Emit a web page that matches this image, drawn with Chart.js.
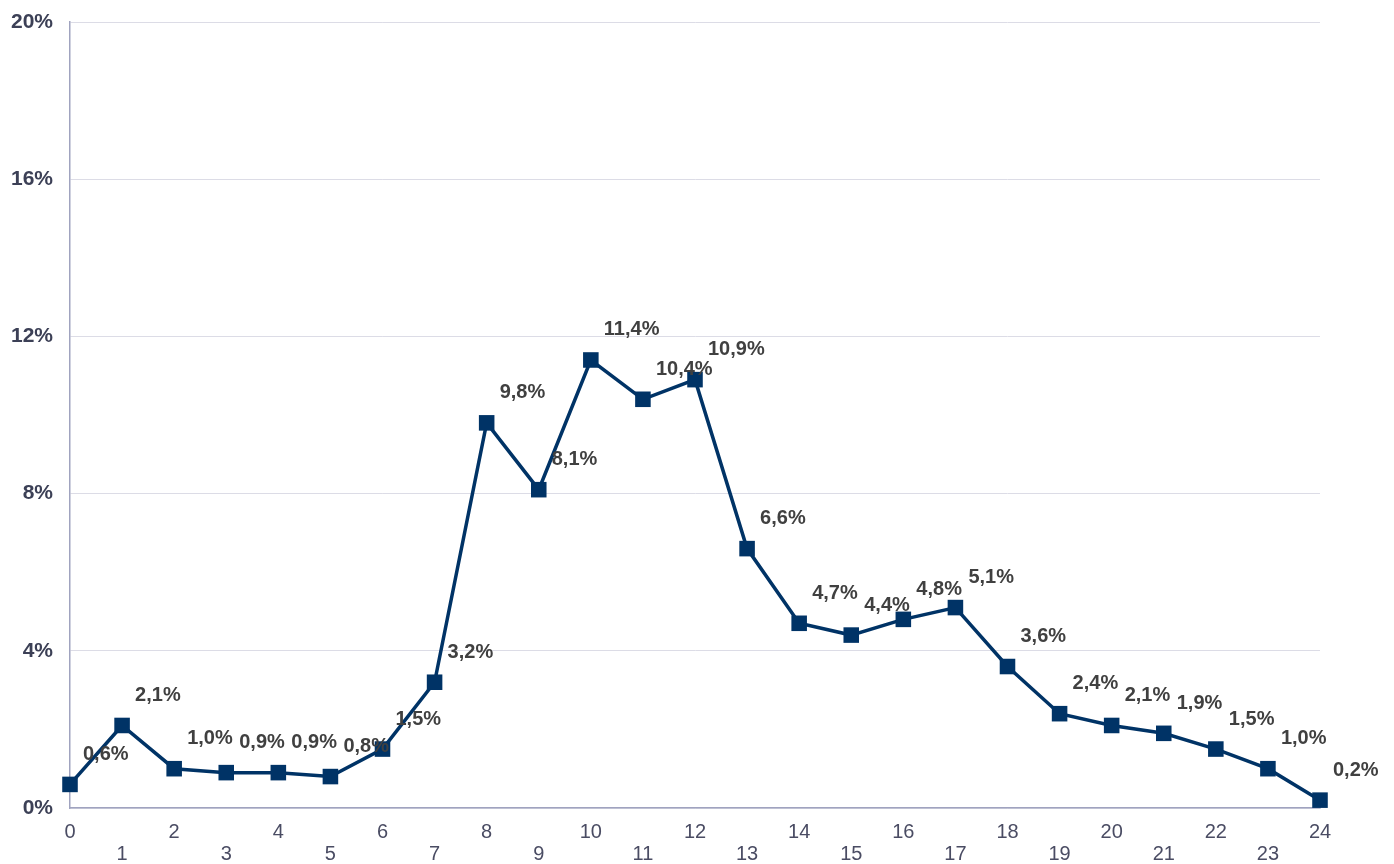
<!DOCTYPE html>
<html>
<head>
<meta charset="utf-8">
<script src="https://cdn.jsdelivr.net/npm/chart.js@4"></script>
<style>
html,body{margin:0;padding:0;background:#fff;}
#wrap{width:1394px;height:864px;position:relative;}
</style>
</head>
<body>
<div id="wrap"><canvas id="c" width="1394" height="864"></canvas></div>
<script>
const hours = ['0','1','2','3','4','5','6','7','8','9','10','11','12','13','14','15','16','17','18','19','20','21','22','23','24'];
const shares = [0.6, 2.1, 1.0, 0.9, 0.9, 0.8, 1.5, 3.2, 9.8, 8.1, 11.4, 10.4, 10.9, 6.6, 4.7, 4.4, 4.8, 5.1, 3.6, 2.4, 2.1, 1.9, 1.5, 1.0, 0.2];
const yTicks = [0, 4, 8, 12, 16, 20];

const labelPlugin = {
  id: 'pointLabels',
  afterDatasetsDraw(chart) {
    const ctx = chart.ctx;
    const meta = chart.getDatasetMeta(0);
    ctx.save();
    ctx.font = 'bold 20px "Liberation Sans", Arial, sans-serif';
    ctx.fillStyle = '#404040';
    ctx.textAlign = 'left';
    ctx.textBaseline = 'middle';
    meta.data.forEach((pt, i) => {
      const txt = shares[i].toFixed(1).replace('.', ',') + '%';
      ctx.fillText(txt, pt.x + 13, pt.y - 30);
    });
    ctx.restore();
  }
};

new Chart(document.getElementById('c'), {
  type: 'line',
  data: {
    labels: hours,
    datasets: [{
      data: shares,
      borderColor: '#003366',
      backgroundColor: '#003366',
      borderWidth: 3.5,
      pointStyle: 'rect',
      pointRadius: 11,
      pointHoverRadius: 11,
      pointBackgroundColor: '#003366',
      pointBorderColor: '#003366',
      pointBorderWidth: 0,
      tension: 0
    }]
  },
  options: {
    responsive: false,
    animation: false,
    layout: { padding: { left: 0, right: 74, top: 22, bottom: 0 } },
    plugins: { legend: { display: false }, tooltip: { enabled: false } },
    scales: {
      x: {
        type: 'category',
        offset: false,
        grid: { display: false, drawTicks: false },
        border: { display: true, color: '#a0a3bf', width: 1.5 },
        ticks: {
          color: '#4a4c63',
          font: { size: 20, family: '"Liberation Sans", Arial, sans-serif', lineHeight: 1.1 },
          padding: 13,
          maxRotation: 0,
          autoSkip: false,
          callback: function(v, i) { return i % 2 === 0 ? hours[i] : ['', hours[i]]; }
        },
        afterFit(s) { s.height = 56; s.paddingLeft = 0; s.paddingRight = 0; }
      },
      y: {
        min: 0,
        max: 20,
        afterBuildTicks(s) { s.ticks = yTicks.map(v => ({ value: v })); },
        grid: { color: '#dcdce6', lineWidth: 1, drawTicks: false },
        border: { display: true, color: '#a0a3bf', width: 1.5 },
        ticks: {
          color: '#3c4056',
          font: { size: 21, weight: 'bold', family: '"Liberation Sans", Arial, sans-serif' },
          padding: 17,
          callback: v => v + '%'
        },
        afterFit(s) { s.width = 70; s.paddingTop = 0; s.paddingBottom = 0; }
      }
    }
  },
  plugins: [labelPlugin]
});
</script>
</body>
</html>
